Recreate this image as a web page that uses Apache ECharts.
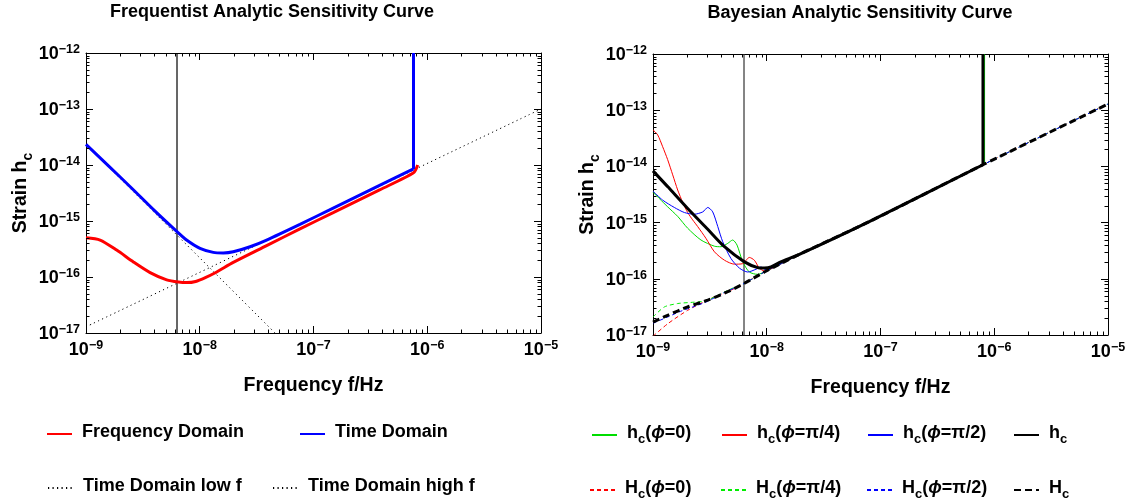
<!DOCTYPE html>
<html><head><meta charset="utf-8">
<script src="https://cdn.jsdelivr.net/npm/echarts@6/dist/echarts.min.js"></script>
<style>html,body{margin:0;padding:0;background:#fff}#c{width:1130px;height:504px}</style>
</head><body><div id="c"></div>
<script>
const FONT = '"Liberation Sans", Arial, Helvetica, sans-serif';

// ---- tick values / labels ----
const xTickValues = [1e-9, 1e-8, 1e-7, 1e-6, 1e-5];
const xTickLabels = ['−9', '−8', '−7', '−6', '−5'];
const yTickValues = [1e-17, 1e-16, 1e-15, 1e-14, 1e-13, 1e-12];
const yTickLabels = ['−17', '−16', '−15', '−14', '−13', '−12'];
const minorMultipliers = [2, 3, 4, 5, 6, 7, 8, 9];

// ---- Left panel: Frequentist ----
const obsLineF = [6.31e-9, 6.31e-9];
const obsLineH = [1e-17, 1e-12];

const freqDomainF = [1.00e-9, 1.33e-9, 1.86e-9, 2.61e-9, 3.66e-9, 5.12e-9, 6.50e-9, 7.70e-9, 9.20e-9, 1.12e-8, 1.41e-8, 1.97e-8, 3.87e-8, 7.60e-8, 1.49e-7, 3.85e-7, 7.57e-7, 8.24e-7];
const freqDomainH = [5.01e-16, 4.57e-16, 3.02e-16, 1.86e-16, 1.20e-16, 8.91e-17, 8.13e-17, 7.94e-17, 8.32e-17, 9.77e-17, 1.23e-16, 1.82e-16, 3.63e-16, 7.24e-16, 1.41e-15, 3.63e-15, 7.24e-15, 1.00e-14];

const timeDomainF = [1.00e-9, 1.585e-9, 2.512e-9, 3.981e-9, 6.31e-9, 7.66e-9, 1.005e-8, 1.315e-8, 1.61e-8, 1.97e-8, 2.77e-8, 3.87e-8, 7.60e-8, 1.49e-7, 3.85e-7, 7.57e-7, 7.57e-7];
const timeDomainH = [2.34e-14, 9.55e-15, 3.89e-15, 1.55e-15, 6.46e-16, 4.57e-16, 3.24e-16, 2.75e-16, 2.69e-16, 2.82e-16, 3.47e-16, 4.57e-16, 8.71e-16, 1.70e-15, 4.37e-15, 8.51e-15, 1.0e-12];

const lowFF = [1.00e-9, 4.59e-8];
const lowFH = [2.34e-14, 1.00e-17];
const highFF = [1.00e-9, 1.00e-5];
const highFH = [1.29e-17, 1.00e-13];

// ---- Right panel: Bayesian ----
const hcF = [1.00e-9, 1.345e-9, 2.018e-9, 3.03e-9, 4.25e-9, 6.37e-9, 8.32e-9, 9.53e-9, 1.09e-8, 1.33e-8, 1.87e-8, 8.04e-8, 7.96e-7, 7.96e-7];
const hcH = [8.32e-15, 4.37e-15, 1.78e-15, 7.59e-16, 3.72e-16, 2.00e-16, 1.58e-16, 1.55e-16, 1.62e-16, 2.00e-16, 2.63e-16, 1.05e-15, 1.07e-14, 1.0e-12];

const HcF = [1.00e-9, 1.345e-9, 2.018e-9, 3.03e-9, 4.54e-9, 6.37e-9, 9.53e-9, 1.87e-8, 8.04e-8, 7.96e-7, 1.00e-5];
const HcH = [1.70e-17, 2.24e-17, 3.16e-17, 4.17e-17, 5.89e-17, 8.32e-17, 1.32e-16, 2.63e-16, 1.05e-15, 1.07e-14, 1.29e-13];

const hc0F = [1.00e-9, 1.345e-9, 1.648e-9, 2.018e-9, 2.64e-9, 3.47e-9, 3.96e-9, 4.54e-9, 5.02e-9, 5.48e-9, 6.15e-9, 7.03e-9, 8.32e-9, 9.53e-9, 1.26e-8, 1.87e-8, 8.04e-8, 8.22e-7, 8.22e-7];
const hc0H = [3.47e-15, 1.91e-15, 1.29e-15, 7.94e-16, 4.90e-16, 3.80e-16, 3.72e-16, 4.27e-16, 4.90e-16, 3.98e-16, 2.00e-16, 1.32e-16, 1.20e-16, 1.32e-16, 1.74e-16, 2.63e-16, 1.05e-15, 1.10e-14, 1.0e-12];

const hc45F = [1.00e-9, 1.10e-9, 1.216e-9, 1.345e-9, 1.49e-9, 1.648e-9, 1.824e-9, 2.018e-9, 2.23e-9, 2.47e-9, 2.92e-9, 3.47e-9, 4.25e-9, 5.20e-9, 6.15e-9, 7.03e-9, 7.78e-9, 8.61e-9, 9.53e-9, 1.26e-8, 1.87e-8, 8.04e-8, 7.96e-7];
const hc45H = [4.47e-14, 3.63e-14, 2.24e-14, 1.32e-14, 7.08e-15, 3.80e-15, 2.29e-15, 1.51e-15, 1.12e-15, 8.51e-16, 5.25e-16, 3.02e-16, 2.14e-16, 1.82e-16, 1.86e-16, 2.40e-16, 2.14e-16, 1.55e-16, 1.38e-16, 1.74e-16, 2.63e-16, 1.05e-15, 1.07e-14];

const hc90F = [1.00e-9, 1.216e-9, 1.54e-9, 1.89e-9, 2.31e-9, 2.74e-9, 3.03e-9, 3.35e-9, 3.71e-9, 4.10e-9, 4.85e-9, 5.75e-9, 6.81e-9, 8.05e-9, 8.91e-9, 9.84e-9, 1.26e-8, 1.87e-8, 8.04e-8, 7.96e-7];
const hc90H = [3.63e-15, 2.51e-15, 1.86e-15, 1.51e-15, 1.41e-15, 1.55e-15, 1.86e-15, 1.55e-15, 8.51e-16, 4.57e-16, 2.29e-16, 1.55e-16, 1.32e-16, 1.48e-16, 1.62e-16, 1.45e-16, 1.74e-16, 2.63e-16, 1.05e-15, 1.07e-14];

const Hc0F = [1.00e-9, 1.345e-9, 2.018e-9, 3.47e-9, 4.54e-9, 6.37e-9, 9.53e-9, 1.87e-8, 8.04e-8, 7.96e-7, 1.00e-5];
const Hc0H = [9.5e-18, 1.58e-17, 2.75e-17, 4.79e-17, 5.89e-17, 8.32e-17, 1.32e-16, 2.63e-16, 1.05e-15, 1.07e-14, 1.29e-13];

const Hc45F = [1.00e-9, 1.26e-9, 1.648e-9, 2.158e-9, 2.83e-9, 3.03e-9, 4.85e-9, 6.37e-9, 9.53e-9, 1.87e-8, 8.04e-8, 7.96e-7, 1.00e-5];
const Hc45H = [2.09e-17, 3.16e-17, 3.63e-17, 3.80e-17, 3.98e-17, 4.17e-17, 6.61e-17, 8.32e-17, 1.32e-16, 2.63e-16, 1.05e-15, 1.07e-14, 1.29e-13];

const Hc90F = [1.00e-9, 1.345e-9, 1.74e-9, 2.25e-9, 3.03e-9, 3.98e-9, 6.37e-9, 9.53e-9, 1.87e-8, 8.04e-8, 7.96e-7, 1.00e-5];
const Hc90H = [1.62e-17, 2.09e-17, 2.63e-17, 3.16e-17, 3.98e-17, 5.37e-17, 8.32e-17, 1.32e-16, 2.63e-16, 1.05e-15, 1.07e-14, 1.29e-13];

// ---- helpers ----
const X_MIN = 1e-9, X_MAX = 1e-5, Y_MIN = 1e-17, Y_MAX = 1e-12;
const pairs = (F, H) => F.map((f, i) => [f, H[i]]);
function tickFmt(values, labels) {
  return function (v) {
    let k = 0;
    for (let i = 0; i < values.length; i++) if (Math.abs(Math.log10(v / values[i])) < 1e-6) k = i;
    return '{b|10}{s|' + labels[k] + '}';
  };
}
const tickRich = {
  b: { fontFamily: FONT, fontWeight: 'bold', fontSize: 18, color: '#000', verticalAlign: 'bottom' },
  s: { fontFamily: FONT, fontWeight: 'bold', fontSize: 12.5, color: '#000', verticalAlign: 'bottom', padding: [0, 0, 7, 0] }
};
const txtRich = {
  g: { width: 5 },
  b: { fontFamily: FONT, fontWeight: 'bold', fontSize: 18, color: '#000', verticalAlign: 'bottom', padding: [0, 0, 4, 0] },
  i: { fontFamily: FONT, fontWeight: 'bold', fontStyle: 'italic', fontSize: 18, color: '#000', verticalAlign: 'bottom', padding: [0, 0, 4, 0] },
  s: { fontFamily: FONT, fontWeight: 'bold', fontSize: 13, color: '#000', verticalAlign: 'bottom' }
};
function richName(n) {
  const m = n.match(/^([hH])_c(.*)$/);
  if (!m) return '{g|}{b|' + n + '}';
  let out = '{g|}{b|' + m[1] + '}{s|c}';
  if (m[2]) out += '{b|(}{i|ϕ}{b|' + m[2].slice(2) + '}';
  return out;
}

function xAxes(grid) {
  const common = {
    type: 'log', logBase: 10, min: X_MIN, max: X_MAX, gridIndex: grid,
    axisLine: { show: true, onZero: false, lineStyle: { color: '#000', width: 1 } },
    axisTick: { show: true, inside: true, length: 7, lineStyle: { color: '#000', width: 1 } },
    minorTick: { show: false },
    splitLine: { show: false }, minorSplitLine: { show: false }
  };
  return [
    Object.assign({}, common, {
      position: 'bottom',
      name: 'Frequency f/Hz', nameLocation: 'middle', nameGap: 43,
      nameTextStyle: { fontFamily: FONT, fontWeight: 'bold', fontSize: 19.5, color: '#000' },
      axisLabel: { show: true, margin: 6, formatter: tickFmt(xTickValues, xTickLabels), rich: tickRich }
    }),
    Object.assign({}, common, { position: 'top', axisLabel: { show: false } })
  ];
}
function yAxes(grid) {
  const common = {
    type: 'log', logBase: 10, min: Y_MIN, max: Y_MAX, gridIndex: grid,
    axisLine: { show: true, onZero: false, lineStyle: { color: '#000', width: 1 } },
    axisTick: { show: true, inside: true, length: 7, lineStyle: { color: '#000', width: 1 } },
    minorTick: { show: false },
    splitLine: { show: false }, minorSplitLine: { show: false }
  };
  return [
    Object.assign({}, common, {
      position: 'left',
      name: '{b|Strain h}{s|c}', nameLocation: 'middle', nameGap: 51, nameRotate: 90,
      nameTextStyle: { rich: {
        b: { fontFamily: FONT, fontWeight: 'bold', fontSize: 19.5, color: '#000', verticalAlign: 'bottom', padding: [0, 0, 4, 0] },
        s: { fontFamily: FONT, fontWeight: 'bold', fontSize: 14, color: '#000', verticalAlign: 'bottom' } } },
      axisLabel: { show: true, margin: 6, formatter: tickFmt(yTickValues, yTickLabels), rich: tickRich }
    }),
    Object.assign({}, common, { position: 'right', axisLabel: { show: false } })
  ];
}

// line series; a vertical tail (repeated frequency) is drawn as a straight piece
function line(name, F, H, xi, yi, color, width, type, z) {
  const base = {
    type: 'line', name: name, xAxisIndex: xi, yAxisIndex: yi,
    symbol: 'none', showSymbol: false,
    lineStyle: { color: color, width: width, type: type || 'solid' },
    itemStyle: { color: color }, z: z || 2, clip: true, animation: false, silent: true
  };
  const pts = pairs(F, H);
  let cut = -1;
  for (let i = 0; i + 1 < F.length; i++) if (F[i] === F[i + 1]) { cut = i; break; }
  if (cut < 0) return [Object.assign({}, base, { data: pts, smooth: 0.25 })];
  const out = [];
  if (cut > 0) out.push(Object.assign({}, base, { data: pts.slice(0, cut + 1), smooth: 0.25 }));
  out.push(Object.assign({}, base, { data: pts.slice(cut), smooth: false }));
  return out;
}

// minor ticks of the frame (2..9 per decade), positioned through the axes
function minorTickSeries(xi, yi) {
  const data = [];
  for (let k = -9; k < -5; k++) minorMultipliers.forEach(m => data.push([m * Math.pow(10, k), Y_MIN, 0]));
  for (let k = -17; k < -12; k++) minorMultipliers.forEach(m => data.push([X_MIN, m * Math.pow(10, k), 1]));
  return {
    type: 'custom', xAxisIndex: xi, yAxisIndex: yi, silent: true, z: 10, clip: false, animation: false,
    dimensions: ['x', 'y', 'kind'], data: data,
    renderItem: function (params, api) {
      const st = { stroke: '#000', lineWidth: 1 };
      if (api.value(2) === 0) {
        const b = api.coord([api.value(0), Y_MIN]), t = api.coord([api.value(0), Y_MAX]);
        const x = Math.round(b[0]) + 0.5;
        return { type: 'group', children: [
          { type: 'line', shape: { x1: x, y1: b[1], x2: x, y2: b[1] - 3.5 }, style: st },
          { type: 'line', shape: { x1: x, y1: t[1], x2: x, y2: t[1] + 3.5 }, style: st } ] };
      }
      const l = api.coord([X_MIN, api.value(1)]), r = api.coord([X_MAX, api.value(1)]);
      const y = Math.round(l[1]) + 0.5;
      return { type: 'group', children: [
        { type: 'line', shape: { x1: l[0], y1: y, x2: l[0] + 3.5, y2: y }, style: st },
        { type: 'line', shape: { x1: r[0], y1: y, x2: r[0] - 3.5, y2: y }, style: st } ] };
    }
  };
}

const series = [].concat(
  line('tobsL', obsLineF, obsLineH, 0, 0, '#000', 1.2, 'solid', 1),
  line('Time Domain low f', lowFF, lowFH, 0, 0, '#000', 1, [1.2, 3.3], 2),
  line('Time Domain high f', highFF, highFH, 0, 0, '#000', 1, [1.2, 3.3], 2),
  line('Frequency Domain', freqDomainF, freqDomainH, 0, 0, '#ff0000', 3, 'solid', 3),
  line('Time Domain', timeDomainF, timeDomainH, 0, 0, '#0000ff', 3, 'solid', 4),

  line('tobsR', obsLineF, obsLineH, 2, 2, '#333', 1.2, 'solid', 1),
  line('h_c(ϕ=0)', hc0F, hc0H, 2, 2, '#00dd00', 1, 'solid', 2),
  line('h_c(ϕ=π/4)', hc45F, hc45H, 2, 2, '#ff0000', 1, 'solid', 2),
  line('h_c(ϕ=π/2)', hc90F, hc90H, 2, 2, '#0000ff', 1, 'solid', 2),
  line('H_c(ϕ=0)', Hc0F, Hc0H, 2, 2, '#ff0000', 1, [4, 3], 3),
  line('H_c(ϕ=π/4)', Hc45F, Hc45H, 2, 2, '#00ee00', 1, [4, 3], 3),
  line('H_c(ϕ=π/2)', Hc90F, Hc90H, 2, 2, '#0000ff', 1, [4, 3], 3),
  line('H_c', HcF, HcH, 2, 2, '#000', 3, [7, 4], 4),
  line('h_c', hcF, hcH, 2, 2, '#000', 3, 'solid', 5),
  [minorTickSeries(0, 0), minorTickSeries(2, 2)]
);

function lg(name, left, top) {
  return {
    data: [name], left: left, top: top, padding: 0, itemWidth: 25, itemHeight: 14,
    selectedMode: false, formatter: richName,
    itemStyle: { opacity: 0 },
    textStyle: { rich: txtRich, fontFamily: FONT, fontWeight: 'bold', fontSize: 18, color: '#000' }
  };
}
const legends = [
  lg('Frequency Domain', 46, 423), lg('Time Domain', 299, 423),
  lg('Time Domain low f', 47, 477), lg('Time Domain high f', 272, 477),
  lg('h_c(ϕ=0)', 591, 424), lg('h_c(ϕ=π/4)', 721, 424), lg('h_c(ϕ=π/2)', 867, 424), lg('h_c', 1013, 424),
  lg('H_c(ϕ=0)', 589, 479), lg('H_c(ϕ=π/4)', 720, 479), lg('H_c(ϕ=π/2)', 866, 479), lg('H_c', 1013, 479)
];

const chart = echarts.init(document.getElementById('c'), null, { renderer: 'canvas' });
chart.setOption({
  backgroundColor: '#fff',
  animation: false,
  graphic: [
    { type: 'text', x: 272, y: 12, style: { text: 'Frequentist Analytic Sensitivity Curve', fontFamily: FONT, fontWeight: 'bold', fontSize: 18, fill: '#000', align: 'center', verticalAlign: 'middle' } },
    { type: 'text', x: 860, y: 13, style: { text: 'Bayesian Analytic Sensitivity Curve', fontFamily: FONT, fontWeight: 'bold', fontSize: 18, fill: '#000', align: 'center', verticalAlign: 'middle' } }
  ],
  grid: [
    { left: 86, top: 53, width: 455, height: 280, containLabel: false },
    { left: 653, top: 54, width: 455, height: 281, containLabel: false }
  ],
  xAxis: xAxes(0).concat(xAxes(1)),
  yAxis: yAxes(0).concat(yAxes(1)),
  legend: legends,
  series: series
});
</script>
</body></html>
